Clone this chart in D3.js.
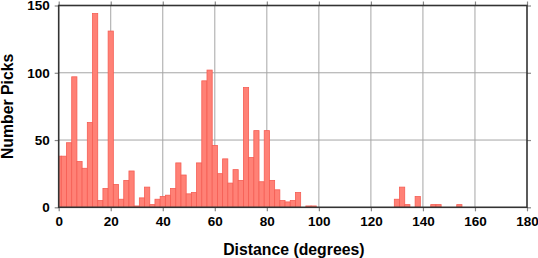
<!DOCTYPE html>
<html>
<head>
<meta charset="utf-8">
<script src="https://cdn.jsdelivr.net/npm/d3@7"></script>
<style>
  body { margin: 0; background: #fff; }
  text { font-family: "Liberation Sans", Arial, Helvetica, sans-serif; font-weight: bold; }
</style>
</head>
<body>
<script>
// bin centres (degrees), 2-degree bins
const binCenters = d3.range(0, 180, 2);
// pick counts per bin
const counts = [
  38, 38, 48, 97, 34, 29, 63, 144, 5, 14,      // 0-18
  131, 17, 6, 20, 27, 1, 7, 15, 2, 6,          // 20-38
  8, 9, 14, 33, 24, 10, 11, 33, 94, 102,       // 40-58
  46, 25, 36, 18, 28, 20, 89, 37, 57, 19,      // 60-78
  57, 20, 13, 5, 4, 5, 11, 0, 1, 1,            // 80-98
  0, 0, 0, 0, 0, 0, 0, 0, 0, 0,                // 100-118
  0, 0, 0, 0, 0, 6, 15, 2, 0, 8,               // 120-138
  0, 0, 2, 2, 0, 0, 0, 2, 0, 0,                // 140-158
  0, 0, 0, 0, 0, 0, 0, 0, 0, 0                 // 160-178
];
const xTicks = [0, 20, 40, 60, 80, 100, 120, 140, 160, 180];
const yTicks = [0, 50, 100, 150];
const binWidth = 2;

const data = binCenters.map((c, i) => ({ c: c, n: counts[i] }));

const W = 538, H = 258;
const margin = { top: 5.5, right: 11, bottom: 50.7, left: 58.7 };
const width = W - margin.left - margin.right,
      height = H - margin.top - margin.bottom;

const x = d3.scaleLinear().domain([0, 180]).range([0, width]);
const y = d3.scaleLinear().domain([0, 150]).range([height, 0]);

const svg = d3.select("body").append("svg")
    .attr("width", W).attr("height", H);

const g = svg.append("g")
    .attr("transform", "translate(" + margin.left + "," + margin.top + ")");

svg.append("defs").append("clipPath").attr("id", "plot")
  .append("rect").attr("width", width).attr("height", height);

// grid
g.append("g").selectAll("line").data(xTicks.slice(1, -1)).enter().append("line")
    .attr("x1", d => x(d)).attr("x2", d => x(d))
    .attr("y1", 0).attr("y2", height)
    .attr("stroke", "#a6a6a6").attr("stroke-width", 1);
g.append("g").selectAll("line").data(yTicks.slice(1, -1)).enter().append("line")
    .attr("y1", d => y(d)).attr("y2", d => y(d))
    .attr("x1", 0).attr("x2", width)
    .attr("stroke", "#a6a6a6").attr("stroke-width", 1);

// bars
g.append("g").attr("clip-path", "url(#plot)")
  .selectAll("rect").data(data.filter(d => d.n > 0)).enter().append("rect")
    .attr("x", d => x(d.c - binWidth / 2))
    .attr("width", d => x(d.c + binWidth / 2) - x(d.c - binWidth / 2))
    .attr("y", d => y(d.n))
    .attr("height", d => y(0) - y(d.n))
    .attr("fill", "#ff8176")
    .attr("stroke", "#f55e54")
    .attr("stroke-width", 0.8);

// axes (ticks on all four sides, outward)
const tickStyle = sel => {
  sel.select(".domain").remove();
  sel.selectAll(".tick line").attr("stroke", "#888").attr("stroke-width", 1.2);
  sel.selectAll("text").attr("fill", "#000").style("font-size", "13.5px");
};

g.append("g").attr("transform", "translate(0," + height + ")")
  .call(d3.axisBottom(x).tickValues(xTicks).tickSize(4).tickPadding(5))
  .call(tickStyle);
g.append("g")
  .call(d3.axisTop(x).tickValues(xTicks).tickSize(4).tickFormat(""))
  .call(tickStyle);
g.append("g")
  .call(d3.axisLeft(y).tickValues(yTicks).tickSize(4).tickPadding(5))
  .call(tickStyle);
g.append("g").attr("transform", "translate(" + width + ",0)")
  .call(d3.axisRight(y).tickValues(yTicks).tickSize(4).tickFormat(""))
  .call(tickStyle);

// frame
g.append("rect")
    .attr("width", width).attr("height", height)
    .attr("fill", "none").attr("stroke", "#333").attr("stroke-width", 1.6);

// titles
svg.append("text")
    .attr("x", margin.left + width / 2 + 1).attr("y", 254.5)
    .attr("text-anchor", "middle")
    .style("font-size", "15.8px")
    .text("Distance (degrees)");
svg.append("text")
    .attr("transform", "translate(13," + (margin.top + height / 2) + ") rotate(-90)")
    .attr("text-anchor", "middle")
    .style("font-size", "15.8px")
    .text("Number Picks");
</script>
</body>
</html>
